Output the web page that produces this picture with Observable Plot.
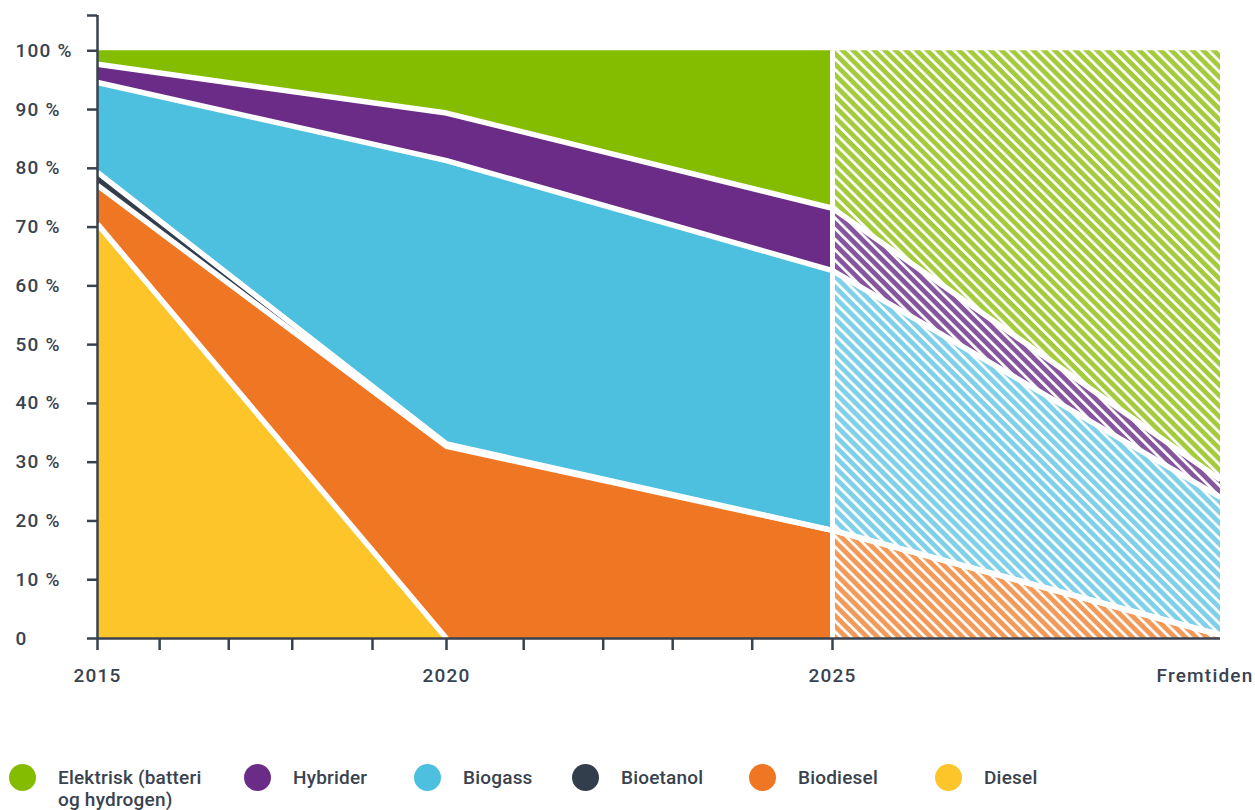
<!DOCTYPE html>
<html><head><meta charset="utf-8">
<script src="https://cdn.jsdelivr.net/npm/d3@7"></script>
<script src="https://cdn.jsdelivr.net/npm/@observablehq/plot@0.6"></script>
<style>
html,body{margin:0;padding:0;background:#fff;overflow:hidden}
#wrap{position:relative;width:1255px;height:810px;font-family:Roboto,"Open Sans",sans-serif;color:#39424e}
#legend{position:absolute;left:9px;top:764px;display:grid;grid-template-columns:235px 170px 158px 177px 186px auto}
.item{display:flex;align-items:flex-start}
.sw{width:27px;height:27px;border-radius:50%;flex:none;margin-right:22px}
.lab{font-size:19px;line-height:22px;white-space:pre-line;padding-top:3px;font-weight:500;letter-spacing:0.2px}
</style></head><body><div id="wrap"></div>
<script>
// periods (x) – last one is "Fremtiden"
const periods = [2015, 2020, 2025, 2030];
const periodLabels = ["2015", "2020", "2025", "Fremtiden"];
const minorTicks = [2015, 2015.89, 2016.88, 2017.79, 2018.94, 2020, 2021.0, 2022.03, 2022.93, 2023.96, 2025];
const yTicks = [0, 10, 20, 30, 40, 50, 60, 70, 80, 90, 100, 106];

// series, bottom to top of the stack
const series = ["Diesel", "Biodiesel", "Bioetanol", "Biogass", "Hybrider", "Elektrisk"];
const diesel    = [70.5, 0, 0, 0];
const biodiesel = [6.6, 32.7, 18.4, 0.6];
const bioetanol = [2.2, 0.4, 0, 0];
const biogass   = [15.3, 48.2, 44.2, 23.4];
const hybrider  = [3.1, 8.1, 10.6, 3.0];
const elektrisk = [2.3, 10.6, 26.8, 73.0];
const values = [diesel, biodiesel, bioetanol, biogass, hybrider, elektrisk];

const colors      = ["#fdc52a", "#ef7623", "#333e4c", "#4dbfdf", "#6b2c87", "#84bd00"];
const hatchColors = ["#fdd45f", "#f39a58", "#5a6470", "#7fd1ea", "#85559e", "#a3cb3b"];

// legend (top-to-bottom order of the stack)
const legendSeries = ["Elektrisk", "Hybrider", "Biogass", "Bioetanol", "Biodiesel", "Diesel"];
const legendLabels = ["Elektrisk (batteri\nog hydrogen)", "Hybrider", "Biogass", "Bioetanol", "Biodiesel", "Diesel"];

// build stacked table
const rows = [];
const cum = periods.map(() => 0);
series.forEach((s, k) => {
  periods.forEach((p, i) => {
    const y1 = cum[i];
    const y2 = y1 + values[k][i];
    rows.push({series: s, k, x: p, i, y1, y2});
  });
  periods.forEach((p, i) => { cum[i] += values[k][i]; });
});

// boundary lines (top of each series except the last)
const bounds = [];
series.slice(0, -1).forEach((s, k) => {
  const c = periods.map((p, i) => rows.find(r => r.k === k && r.i === i).y2);
  periods.forEach((p, i) => {
    const n = c.length;
    const ok = (i > 0 && !(c[i] === 0 && c[i - 1] === 0)) || (i < n - 1 && !(c[i] === 0 && c[i + 1] === 0));
    bounds.push({k, x: p, y: ok ? c[i] : NaN});
  });
});

const split = periods[2];
const total = d3.sum(values, v => v[0]);
const ink = "#39424e";

const marks = [];
series.forEach((s, k) => {
  marks.push(Plot.areaY(rows.filter(r => r.k === k && r.x <= split), {x: "x", y1: "y1", y2: "y2", fill: colors[k]}));
  marks.push(Plot.areaY(rows.filter(r => r.k === k && r.x >= split), {x: "x", y1: "y1", y2: "y2", fill: `url(#hatch-${k})`}));
});
marks.push(Plot.line(bounds, {x: "x", y: "y", z: "k", stroke: "white", strokeWidth: 5.5, strokeLinecap: "butt", strokeLinejoin: "miter"}));
marks.push(Plot.ruleX([split], {y1: 0, y2: total, stroke: "white", strokeWidth: 5}));
// y ticks (no labels) and y labels (left-aligned)
marks.push(Plot.axisY({ticks: yTicks, tickSize: 10, strokeWidth: 2.5, stroke: ink, tickFormat: () => "", label: null}));
marks.push(Plot.axisY({ticks: yTicks.filter(t => t <= 100), tickSize: 0, tickPadding: 9, textAnchor: "start", dx: -73, fill: ink, label: null,
  tickFormat: d => d === 0 ? "0" : `${d} %`}));
marks.push(Plot.axisX({ticks: minorTicks, tickSize: 12, strokeWidth: 2.5, stroke: ink, tickFormat: () => "", label: null}));
marks.push(Plot.ruleX([periods[0]], {stroke: ink, strokeWidth: 2.5}));
marks.push(Plot.ruleY([0], {stroke: ink, strokeWidth: 2.5}));
const labelRows = periods.map((p, i) => ({x: p, label: periodLabels[i]}));
marks.push(Plot.text(labelRows.slice(0, 3), {x: "x", text: "label", frameAnchor: "bottom", dy: 43, fill: ink}));
marks.push(Plot.text(labelRows.slice(3), {x: "x", text: "label", frameAnchor: "bottom", dy: 43, dx: 33, textAnchor: "end", fill: ink}));

const svg = Plot.plot({
  width: 1255,
  height: 740,
  marginLeft: 97,
  marginRight: 35,
  marginTop: 15,
  marginBottom: 102,
  style: {fontFamily: "Roboto, sans-serif", fontSize: "19px", fontWeight: 500, color: ink, letterSpacing: "1.2px", background: "white"},
  x: {type: "linear", domain: periods, range: [97, 446, 832, 1220], label: null},
  y: {domain: [0, 106], label: null},
  marks
});

const defs = d3.select(svg).insert("defs", ":first-child");
series.forEach((s, k) => {
  const p = defs.append("pattern").attr("id", `hatch-${k}`).attr("patternUnits", "userSpaceOnUse")
    .attr("width", 7.5).attr("height", 7.5).attr("patternTransform", "rotate(-45)");
  p.append("rect").attr("width", 7.5).attr("height", 7.5).attr("fill", hatchColors[k]);
  p.append("rect").attr("width", 2.7).attr("height", 7.5).attr("fill", "white");
});

const wrap = document.getElementById("wrap");
wrap.appendChild(svg);

const legend = document.createElement("div");
legend.id = "legend";
legendSeries.forEach((s, j) => {
  const item = document.createElement("div");
  item.className = "item";
  const sw = document.createElement("span");
  sw.className = "sw";
  sw.style.background = colors[series.indexOf(s)];
  const lab = document.createElement("span");
  lab.className = "lab";
  lab.textContent = legendLabels[j];
  item.appendChild(sw); item.appendChild(lab);
  legend.appendChild(item);
});
wrap.appendChild(legend);
</script>
</body></html>
